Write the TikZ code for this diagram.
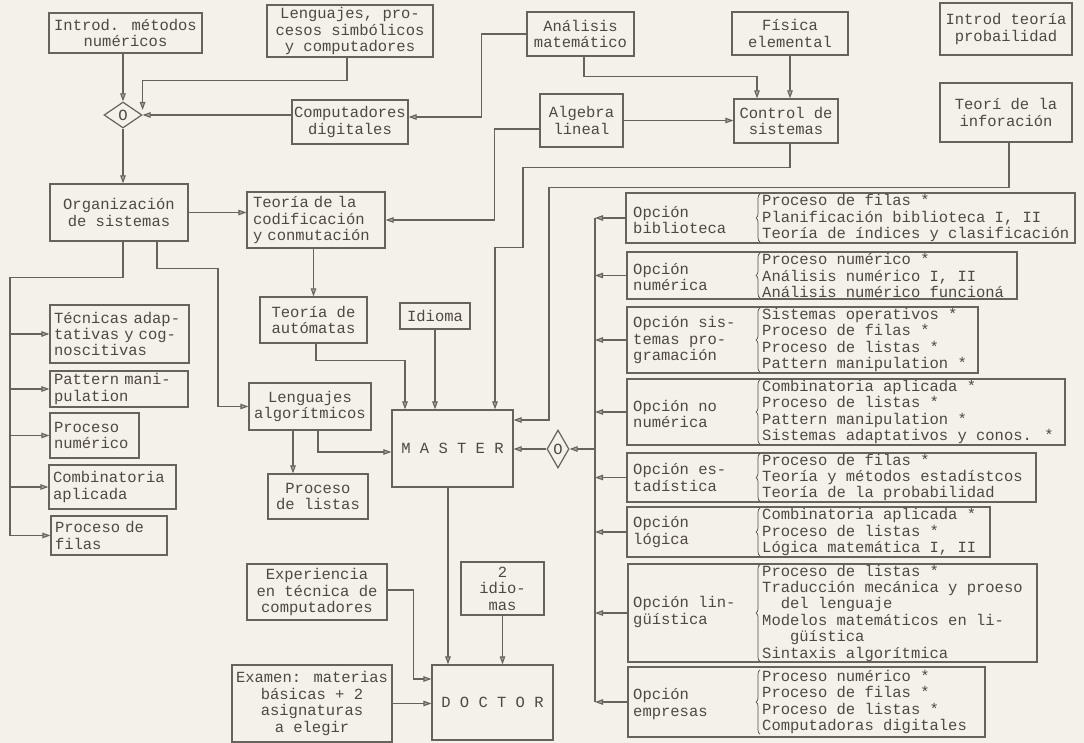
\documentclass[tikz,border=0pt]{standalone}
\usepackage{fontspec}
\newfontfamily\twfam{Liberation Mono}
\newcommand\twfont{\twfam\fontsize{15.5pt}{16.4pt}\selectfont}
\usetikzlibrary{arrows.meta,shapes.geometric,decorations.pathreplacing}
\definecolor{bg}{RGB}{244,242,232}
\definecolor{lc}{RGB}{104,98,92}
\definecolor{tc}{RGB}{78,72,66}
\begin{document}
\begin{tikzpicture}[x=1pt,y=-1pt,
  box/.style={draw=lc, line width=1.2pt, inner sep=0pt, font=\twfont, text=tc, align=center},
  lbox/.style={box, align=left},
  obox/.style={draw=lc, line width=1.2pt, inner sep=0pt},
  txt/.style={inner sep=0pt, font=\twfont, text=tc, align=left},
  arr/.style={draw=lc, line width=1.1pt, -{Triangle[length=8pt,width=5.5pt,fill=lc!55]}},
  ln/.style={draw=lc, line width=1.1pt},
  brc/.style={draw=tc, line width=0.7pt, decorate, decoration={brace, amplitude=4pt}},
  dia/.style={draw=lc, line width=1.2pt, diamond, inner sep=0pt, font=\twfont, text=tc}
]
\fill[bg] (0,0) rectangle (1084,743);
\useasboundingbox (0,0) rectangle (1084,743);

% top row
\node[box,minimum width=153pt,minimum height=40pt] (intro) at (125.5,33) {Introd. métodos\\numéricos};
\node[box,minimum width=166pt,minimum height=52pt] (leng) at (350,31) {Lenguajes, pro-\\cesos simbólicos\\y computadores};
\node[box,minimum width=107pt,minimum height=44pt] (anal) at (580.5,34) {Análisis\\matemático};
\node[box,minimum width=116pt,minimum height=43pt] (fis) at (790,33.5) {Física\\elemental};
\node[box,minimum width=132pt,minimum height=52pt] (prob) at (1006,29) {Introd teoría\\probailidad};
\node[box,minimum width=116pt,minimum height=44pt] (comp) at (350,122) {Computadores\\digitales};
\node[box,minimum width=83pt,minimum height=53pt] (alg) at (581.5,120.5) {Algebra\\lineal};
\node[box,minimum width=104pt,minimum height=44pt] (ctrl) at (786,121) {Control de\\sistemas};
\node[box,minimum width=132pt,minimum height=59pt] (info) at (1006,112.5) {Teorí de la\\inforación};
\node[dia,minimum width=38pt,minimum height=26pt] (d1) at (123,115) {O};

% middle
\node[box,minimum width=138pt,minimum height=57pt] (orgs) at (119,212.5) {Organización\\de sistemas};
\node[lbox,text width=126pt,inner xsep=6pt,minimum height=56pt] (codif) at (316,220) {Teoría de la\\codificación\\y conmutación};
\node[box,minimum width=107pt,minimum height=46pt] (aut) at (313.5,320) {Teoría de\\autómatas};
\node[box,minimum width=70pt,minimum height=26pt] (idioma) at (435,316) {Idioma};
\node[box,minimum width=122pt,minimum height=47pt] (lalg) at (310,406.5) {Lenguajes\\algorítmicos};
\node[box,minimum width=121pt,minimum height=77pt] (master) at (452.5,448.5) {M A S T E R};
\node[box,minimum width=100pt,minimum height=45pt] (plist) at (318,496.5) {Proceso\\de listas};
\node[dia,minimum width=22pt,minimum height=38pt] (d2) at (558,449) {O};

% left column
\node[lbox,text width=131pt,inner xsep=4pt,minimum height=58pt] (tec) at (119.5,334) {Técnicas adap-\\tativas y cog-\\noscitivas};
\node[lbox,text width=130pt,inner xsep=4pt,minimum height=36pt] (pat) at (119,389) {Pattern mani-\\pulation};
\node[lbox,text width=81pt,inner xsep=4pt,minimum height=45pt] (pnum) at (94.5,435.5) {Proceso\\numérico};
\node[lbox,text width=119pt,inner xsep=4pt,minimum height=44pt] (comb) at (112.5,487) {Combinatoria\\aplicada};
\node[lbox,text width=108pt,inner xsep=4pt,minimum height=39pt] (pfil) at (109,535.5) {Proceso de\\filas};

% bottom
\node[box,minimum width=140pt,minimum height=56pt] (exp) at (317,592) {Experiencia\\en técnica de\\computadores};
\node[box,minimum width=83pt,minimum height=53pt] (idi2) at (502.5,588.5) {2\\idio-\\mas};
\node[box,minimum width=160pt,minimum height=77pt] (exam) at (312,703.5) {Examen: materias\\básicas + 2\\asignaturas\\a elegir};
\node[box,minimum width=121pt,minimum height=75pt] (doc) at (492.5,702.5) {D O C T O R};

% options
\node[obox,minimum width=449pt,minimum height=50pt] (ob) at (850.5,218) {};
\node[txt,anchor=west] (obl) at (633,220) {Opción\\biblioteca};
\node[txt,anchor=west] (obi) at (762,218) {Proceso de filas *\\Planificación biblioteca I, II\\Teoría de índices y clasificación};
\draw[brc] ([xshift=-2pt]obi.south west) -- ([xshift=-2pt]obi.north west);

\node[obox,minimum width=390pt,minimum height=47pt] (on) at (822,275.5) {};
\node[txt,anchor=west] (onl) at (633,277) {Opción\\numérica};
\node[txt,anchor=west] (oni) at (762,275.5) {Proceso numérico *\\Análisis numérico I, II\\Análisis numérico funcioná};
\draw[brc] ([xshift=-2pt]oni.south west) -- ([xshift=-2pt]oni.north west);

\node[obox,minimum width=351pt,minimum height=66pt] (os) at (802.5,340) {};
\node[txt,anchor=west] (osl) at (633,340) {Opción sis-\\temas pro-\\gramación};
\node[txt,anchor=west] (osi) at (762,340) {Sistemas operativos *\\Proceso de filas *\\Proceso de listas *\\Pattern manipulation *};
\draw[brc] ([xshift=-2pt]osi.south west) -- ([xshift=-2pt]osi.north west);

\node[obox,minimum width=438pt,minimum height=66pt] (onn) at (846,412) {};
\node[txt,anchor=west] (onnl) at (633,414) {Opción no\\numérica};
\node[txt,anchor=west] (onni) at (762,412) {Combinatoria aplicada *\\Proceso de listas *\\Pattern manipulation *\\Sistemas adaptativos y conos. *};
\draw[brc] ([xshift=-2pt]onni.south west) -- ([xshift=-2pt]onni.north west);

\node[obox,minimum width=409pt,minimum height=49pt] (oe) at (831.5,477.5) {};
\node[txt,anchor=west] (oel) at (633,477.5) {Opción es-\\tadística};
\node[txt,anchor=west] (oei) at (762,477.5) {Proceso de filas *\\Teoría y métodos estadístcos\\Teoría de la probabilidad};
\draw[brc] ([xshift=-2pt]oei.south west) -- ([xshift=-2pt]oei.north west);

\node[obox,minimum width=363pt,minimum height=50pt] (ol) at (808.5,532) {};
\node[txt,anchor=west] (oll) at (633,532) {Opción\\lógica};
\node[txt,anchor=west] (oli) at (762,532) {Combinatoria aplicada *\\Proceso de listas *\\Lógica matemática I, II};
\draw[brc] ([xshift=-2pt]oli.south west) -- ([xshift=-2pt]oli.north west);

\node[obox,minimum width=409pt,minimum height=98pt] (oling) at (832.5,613) {};
\node[txt,anchor=west] (olingl) at (633,612) {Opción lin-\\güística};
\node[txt,anchor=west] (olingi) at (762,613) {Proceso de listas *\\Traducción mecánica y proeso\\\hspace*{18.6pt}del lenguaje\\Modelos matemáticos en li-\\\hspace*{27.9pt}güística\\Sintaxis algorítmica};
\draw[brc] ([xshift=-2pt]olingi.south west) -- ([xshift=-2pt]olingi.north west);

\node[obox,minimum width=357pt,minimum height=70pt] (oem) at (806.5,702) {};
\node[txt,anchor=west] (oeml) at (633,704) {Opción\\empresas};
\node[txt,anchor=west] (oemi) at (762,702) {Proceso numérico *\\Proceso de filas *\\Proceso de listas *\\Computadoras digitales};
\draw[brc] ([xshift=-2pt]oemi.south west) -- ([xshift=-2pt]oemi.north west);

% connectors top
\draw[arr] (d1.north |- intro.south) -- (d1.north);
\draw[arr] ([xshift=-3pt]leng.south) -- ++(0,23) -| ([yshift=5pt]d1.east);
\draw[arr] (comp.west |- d1.east) -- (d1.east);
\draw[arr] (d1.south) -- (d1.south |- orgs.north);
\draw[arr] (anal.west) -- ++(-45,0) |- ([yshift=5pt]comp.east);
\draw[arr] ([xshift=3.5pt]anal.south) -- ++(0,20) -| ([xshift=-29pt]ctrl.north);
\draw[arr] (fis.south) -- (fis.south |- ctrl.north);
\draw[arr] (alg.east) -- (alg.east -| ctrl.west);
\draw[arr] ([yshift=-8.5pt]alg.west) -- ++(-45,0) |- (codif.east);
\draw[arr] ([xshift=4pt]ctrl.south) -- ++(0,24) -- ++(-267,0) -- ++(0,80) -| ([xshift=42.5pt]master.north);
\draw[arr] ([xshift=3pt]info.south) -- ++(0,45) -- ++(-460,0) |- ([yshift=28.5pt]master.east);

% connectors middle
\draw[arr] (orgs.east) -- (orgs.east -| codif.west);
\coordinate (lb) at (10,0);
\draw[ln] ([xshift=4pt]orgs.south) -- ++(0,36) -| (lb |- pfil.west);
\draw[arr] (lb |- tec.west) -- (tec.west);
\draw[arr] (lb |- pat.west) -- (pat.west);
\draw[arr] (lb |- pnum.west) -- (pnum.west);
\draw[arr] (lb |- comb.west) -- (comb.west);
\draw[arr] (lb |- pfil.west) -- (pfil.west);
\draw[arr] ([xshift=38pt]orgs.south) -- ++(0,27) -- ++(61,0) |- (lalg.west);
\draw[arr] (aut.north |- codif.south) -- (aut.north);
\draw[arr] ([xshift=2.5pt]aut.south) -- ++(0,17) -| ([xshift=-47.5pt]master.north);
\draw[arr] (idioma.south) -- (idioma.south |- master.north);
\draw[arr] ([xshift=-17pt]lalg.south) -- ([xshift=-17pt]lalg.south |- plist.north);
\draw[arr] ([xshift=8pt]lalg.south) |- ([yshift=-3.5pt]master.west);

% options bus
\coordinate (bus) at (595,0);
\draw[ln] (ob.west -| bus) -- (oem.west -| bus);
\foreach \o in {ob,on,os,onn,oe,ol,oling,oem} {
  \draw[arr] (\o.west) -- (\o.west -| bus);
}
\draw[arr] (d2.east -| bus) -- (d2.east);
\draw[arr] (d2.west) -- (d2.west -| master.east);

% bottom
\draw[arr] ([xshift=-4.5pt]master.south) -- ([xshift=-4.5pt]master.south |- doc.north);
\draw[arr] ([yshift=2pt]exp.east) -- ++(26,0) |- ([yshift=23.5pt]doc.west);
\draw[arr] (idi2.south) -- (idi2.south |- doc.north);
\draw[arr] (exam.east) -- (exam.east -| doc.west);
\end{tikzpicture}
\end{document}
